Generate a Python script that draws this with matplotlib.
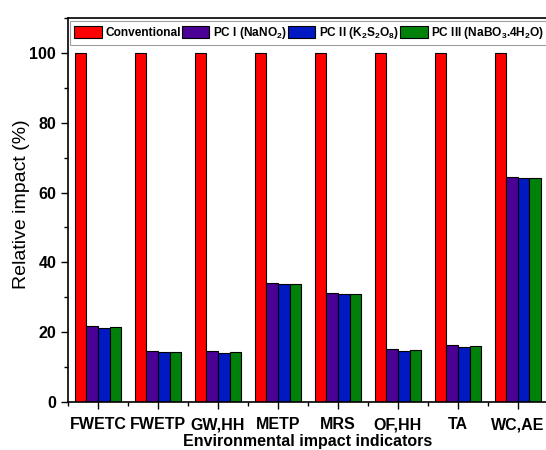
import numpy as np
import matplotlib.pyplot as plt
from matplotlib.ticker import MultipleLocator

plt.rcParams['font.family'] = ['Liberation Sans', 'DejaVu Sans']
plt.rcParams['mathtext.fontset'] = 'custom'
plt.rcParams['mathtext.rm'] = 'Liberation Sans:bold'
plt.rcParams['mathtext.bf'] = 'Liberation Sans:bold'
plt.rcParams['mathtext.default'] = 'bf'

indicators = ['FWETC', 'FWETP', 'GW,HH', 'METP', 'MRS', 'OF,HH', 'TA', 'WC,AE']
conventional = [100, 100, 100, 100, 100, 100, 100, 100]
pc1 = [21.8, 14.6, 14.5, 34.0, 31.2, 15.1, 16.2, 64.5]
pc2 = [21.3, 14.2, 14.1, 33.7, 30.9, 14.7, 15.8, 64.2]
pc3 = [21.4, 14.3, 14.2, 33.9, 31.0, 14.8, 16.0, 64.3]

labels = ['Conventional', 'PC I (NaNO$_2$)', 'PC II (K$_2$S$_2$O$_8$)',
          'PC III (NaBO$_3$.4H$_2$O)']
colors = ['#ff0000', '#4b0096', '#0019c3', '#00820a']

fig = plt.figure(figsize=(5.46, 4.5), dpi=100)
ax = fig.add_axes([0.1245, 0.1067, 0.879, 0.8533])

x = np.arange(len(indicators))
w = 0.193
for i, (vals, lab, c) in enumerate(zip([conventional, pc1, pc2, pc3], labels, colors)):
    ax.bar(x + (i - 1.5) * w, vals, width=w, color=c, edgecolor='black',
           linewidth=0.8, label=lab)

ax.set_xlim(-0.5, 7.5)
ax.set_ylim(0, 110)
ax.set_xticks(x)
ax.set_xticklabels(indicators, fontsize=11.5, fontweight='bold')
ax.xaxis.set_minor_locator(MultipleLocator(1, offset=0.5))
ax.yaxis.set_major_locator(MultipleLocator(20))
ax.yaxis.set_minor_locator(MultipleLocator(10))
for lab in ax.get_yticklabels():
    lab.set_fontweight('bold')
    lab.set_fontsize(11.5)
ax.tick_params(axis='both', which='major', direction='out', length=5, width=1)
ax.tick_params(axis='both', which='minor', direction='out', length=3, width=1)
ax.tick_params(axis='x', which='major', pad=6)
ax.tick_params(top=False, right=False)
for s in ax.spines.values():
    s.set_linewidth(1.2)

ax.set_ylabel('Relative impact (%)', fontsize=14)
ax.yaxis.set_label_coords(-0.079, 0.515)
ax.set_xlabel('Environmental impact indicators', fontsize=11.5, fontweight='bold',
              labelpad=1)

leg = ax.legend(loc='upper left', bbox_to_anchor=(0.004, 0.992), ncol=4,
                prop={'weight': 'bold', 'size': 8.6}, frameon=True,
                fancybox=False, edgecolor='#888888', handlelength=2.3,
                handleheight=1.1, handletextpad=0.3, columnspacing=0.1,
                borderpad=0.35, borderaxespad=0)
leg.get_frame().set_linewidth(0.8)

fig.savefig('out.png', dpi=100)
